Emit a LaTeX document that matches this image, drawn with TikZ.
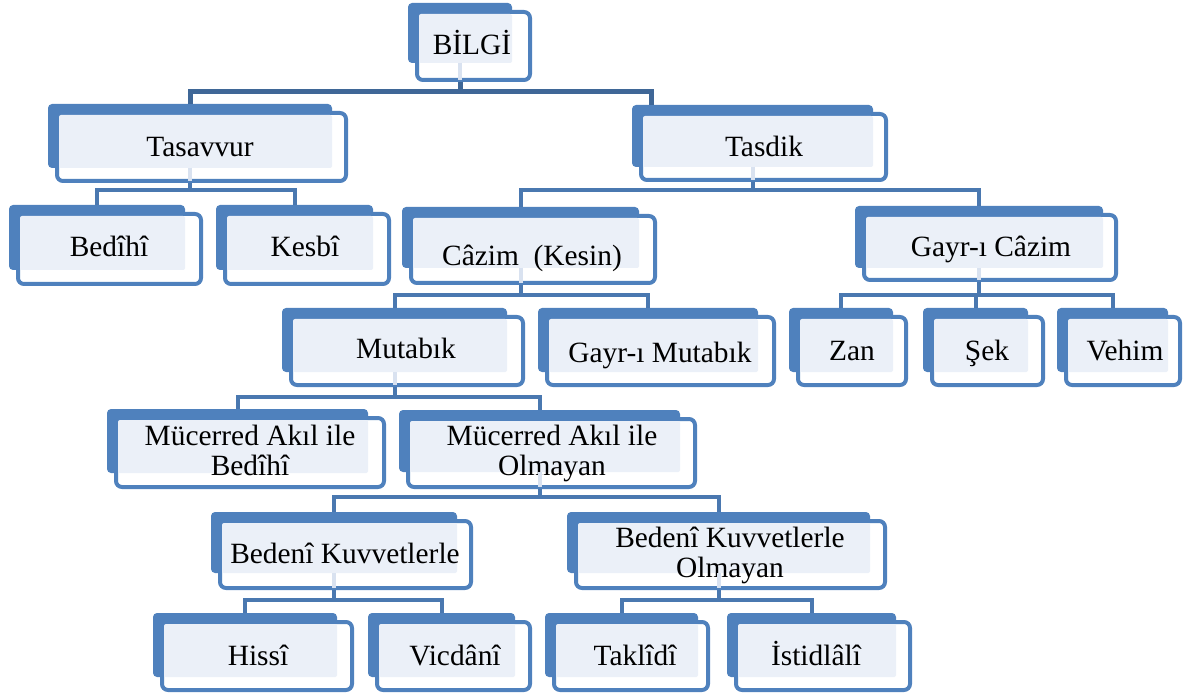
\documentclass[tikz,border=0pt]{standalone}
\usepackage{fontspec}
\setmainfont{Liberation Serif}
\definecolor{backc}{HTML}{4F81BD}
\definecolor{framec}{HTML}{4F81BD}
\definecolor{lightc}{HTML}{EBF0F8}
\definecolor{connc}{HTML}{4A78B0}
\definecolor{topc}{HTML}{3F6797}
\definecolor{stubc}{HTML}{D9E2F0}
\tikzset{
  conn/.style={draw=connc, line width=4pt},
  topconn/.style={draw=topc, line width=5pt},
  lbl/.style={anchor=base, inner sep=0pt, font=\fontsize{29.4}{30}\selectfont},
}
% name, l, t, r, b (back rect), R, B (front outer right/bottom)
\newcommand\kutu[7]{%
  \fill[backc, rounded corners=4pt] (#2,#3) rectangle (#4,#5);
  \draw[framec, line width=4pt, fill=white, rounded corners=6pt] (#2+9,#3+9) rectangle (#6-2,#7-2);
  \fill[lightc, rounded corners=2pt] (#2+11,#3+11) rectangle (#4,#5);
  \coordinate (#1-top) at ({(#2+#4)/2},#3);
  \coordinate (#1-in) at ({(#2+#4)/2},#5);
  \coordinate (#1-bot) at ({(#2+#4)/2},#7);
}
\newcommand\baglan[3]{%
  \draw[stubc, line width=4pt] (#1-in) -- ([yshift=2pt]#1-bot);
  \foreach \c in {#3} {\draw[conn] (#1-bot) -- (#1-bot |- 0,#2) -| (\c-top);}
}
\begin{document}
\begin{tikzpicture}[x=1pt, y=-1pt]
\useasboundingbox (0,0) rectangle (1187,695);

\kutu{bilgi}{408}{3}{512}{63}{532}{82}
\kutu{tasavvur}{48}{104}{332}{168}{348}{183}
\kutu{tasdik}{632}{105}{873}{167}{888}{182}
\kutu{bedihi}{9}{205}{185}{270}{203}{286}
\kutu{kesbi}{216}{205}{373}{270}{391}{286}
\kutu{cazim}{402}{207}{639}{268}{657}{285}
\kutu{gcazim}{855}{206}{1103}{268}{1118}{282}
\kutu{mutabik}{282}{308}{507}{372}{525}{387}
\kutu{gmutabik}{538}{308}{758}{372}{776}{387}
\kutu{zan}{789}{308}{893}{372}{908}{387}
\kutu{sek}{923}{308}{1028}{372}{1045}{387}
\kutu{vehim}{1057}{308}{1168}{372}{1182}{387}
\kutu{mab}{107}{409}{368}{473}{386}{489}
\kutu{mao}{399}{410}{680}{472}{697}{489}
\kutu{bk}{211}{512}{457}{573}{473}{590}
\kutu{bko}{567}{512}{870}{573}{887}{590}
\kutu{hissi}{153}{613}{337}{677}{354}{692}
\kutu{vicdani}{368}{613}{515}{677}{532}{692}
\kutu{taklidi}{545}{613}{698}{677}{710}{692}
\kutu{istidlali}{727}{613}{896}{677}{912}{692}

\node[lbl] (tbilgi) at (472,55) {BİLGİ};
\node[lbl] (ttasavvur) at (200,157) {Tasavvur};
\node[lbl] (ttasdik) at (764,157) {Tasdik};
\node[lbl] (tbedihi) at (109,257) {Bedîhî};
\node[lbl] (tkesbi) at (305,257) {Kesbî};
\node[lbl] (tcazim) at (532,266) {Câzim\ \ (Kesin)};
\node[lbl] (tgcazim) at (991,257) {Gayr-ı Câzim};
\node[lbl] (tmutabik) at (406,359) {Mutabık};
\node[lbl] (tgmutabik) at (660,362) {Gayr-ı Mutabık};
\node[lbl] (tzan) at (852,360) {Zan};
\node[lbl] (tsek) at (987,360) {Şek};
\node[lbl] (tvehim) at (1125,360) {Vehim};
\node[lbl] (tmab) at (250,445) {\begin{tabular}[t]{@{}c@{}}Mücerred Akıl ile\\Bedîhî\end{tabular}};
\node[lbl] (tmao) at (552,445) {\begin{tabular}[t]{@{}c@{}}Mücerred Akıl ile\\Olmayan\end{tabular}};
\node[lbl] (tbk) at (345,563) {Bedenî Kuvvetlerle};
\node[lbl] (tbko) at (730,547) {\begin{tabular}[t]{@{}c@{}}Bedenî Kuvvetlerle\\Olmayan\end{tabular}};
\node[lbl] (thissi) at (258,665) {Hissî};
\node[lbl] (tvicdani) at (455,665) {Vicdânî};
\node[lbl] (ttaklidi) at (635,665) {Taklîdî};
\node[lbl] (tistidlali) at (816,665) {İstidlâlî};

% connectors
\coordinate (tasdikL-top) at (651,105);
\draw[stubc, line width=4pt] (bilgi-in) -- ([yshift=2pt]bilgi-bot);
\foreach \c in {tasavvur,tasdikL} {\draw[topconn] (bilgi-bot) -- (bilgi-bot |- 0,92) -| (\c-top);}
\baglan{tasavvur}{190}{bedihi,kesbi}
\baglan{tasdik}{190}{cazim,gcazim}
\baglan{cazim}{295}{mutabik,gmutabik}
\baglan{gcazim}{295}{zan,sek,vehim}
\baglan{mutabik}{397}{mab,mao}
\baglan{mao}{497}{bk,bko}
\baglan{bk}{600}{hissi,vicdani}
\baglan{bko}{600}{taklidi,istidlali}
\end{tikzpicture}
\end{document}
